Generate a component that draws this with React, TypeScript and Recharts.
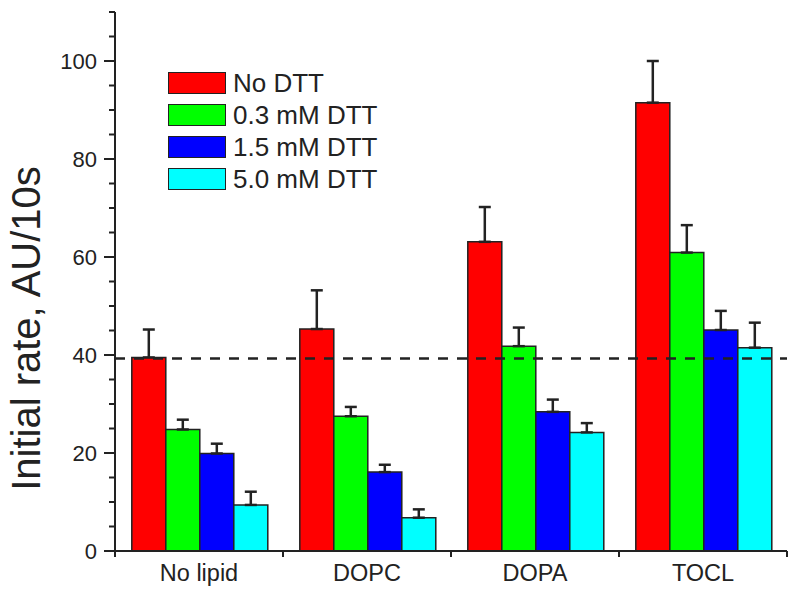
import { BarChart, Bar, XAxis, YAxis, ErrorBar, ReferenceLine, Legend } from "recharts";

// values (AU/10s), upper error only
const categories = ["No lipid", "DOPC", "DOPA", "TOCL"];
const noDtt = [39.5, 45.3, 63.1, 91.5];
const noDttErr = [5.7, 7.9, 7.1, 8.5];
const dtt03 = [24.8, 27.5, 41.8, 60.9];
const dtt03Err = [2.0, 1.9, 3.8, 5.6];
const dtt15 = [19.9, 16.1, 28.4, 45.1];
const dtt15Err = [2.0, 1.5, 2.5, 3.9];
const dtt50 = [9.4, 6.8, 24.2, 41.5];
const dtt50Err = [2.7, 1.7, 1.9, 5.1];
const baseline = 39.3;
const yTicks = [0, 5, 10, 15, 20, 25, 30, 35, 40, 45, 50, 55, 60, 65, 70, 75, 80, 85, 90, 95, 100, 105, 110];

const series = [
  { key: "noDtt", name: "No DTT", color: "#ff0000" },
  { key: "dtt03", name: "0.3 mM DTT", color: "#00ff00" },
  { key: "dtt15", name: "1.5 mM DTT", color: "#0000ff" },
  { key: "dtt50", name: "5.0 mM DTT", color: "#00ffff" },
];

const data = categories.map((name, i) => ({
  name,
  noDtt: noDtt[i],
  noDttErr: [0, noDttErr[i]],
  dtt03: dtt03[i],
  dtt03Err: [0, dtt03Err[i]],
  dtt15: dtt15[i],
  dtt15Err: [0, dtt15Err[i]],
  dtt50: dtt50[i],
  dtt50Err: [0, dtt50Err[i]],
}));

const W = 800;
const H = 593;
const margin = { top: 12, right: 13, bottom: 0, left: 0 };
const Y_AXIS_W = 115;
const X_AXIS_H = 42;
const ink = "#222";
const font = "'Liberation Sans', Arial, sans-serif";
const bandHalf = (W - margin.left - margin.right - Y_AXIS_W) / categories.length / 2;

const YTick = ({ x, y, payload }: any) => {
  const major = payload.value % 20 === 0;
  return (
    <g>
      <line x1={x - (major ? 11 : 6)} x2={x} y1={y} y2={y} stroke={ink} strokeWidth={2} />
      {major && (
        <text x={x - 18} y={y} textAnchor="end" dominantBaseline="central" fontSize={22} fill={ink} fontFamily={font}>
          {payload.value}
        </text>
      )}
    </g>
  );
};

const XTick = ({ x, y, payload, index }: any) => (
  <g>
    {index === 0 && <line x1={x - bandHalf} x2={x - bandHalf} y1={y} y2={y + 6} stroke={ink} strokeWidth={2} />}
    <line x1={x + bandHalf} x2={x + bandHalf} y1={y} y2={y + 6} stroke={ink} strokeWidth={2} />
    <text x={x} y={y + 22} textAnchor="middle" dominantBaseline="central" fontSize={23.5} fill={ink} fontFamily={font}>
      {payload.value}
    </text>
  </g>
);

// keep the series order (Recharts sorts the payload by name)
const renderLegend = () => (
  <div style={{ fontFamily: font, fontSize: 26, color: ink }}>
    {series.map((s) => (
      <div key={s.key} style={{ display: "flex", alignItems: "center", height: 32 }}>
        <div style={{ width: 56, height: 20, background: s.color, border: `1.5px solid ${ink}`, marginRight: 7 }} />
        <span style={{ lineHeight: "26px" }}>{s.name}</span>
      </div>
    ))}
  </div>
);

const YLabel = ({ viewBox }: any) => {
  const cx = 26;
  const cy = viewBox.y + viewBox.height / 2 + 47;
  return (
    <text x={cx} y={cy} transform={`rotate(-90 ${cx} ${cy})`} textAnchor="middle" dominantBaseline="central" fontSize={40} fill={ink} fontFamily={font}>
      Initial rate, AU/10s
    </text>
  );
};

export default function App() {
  return (
    <div style={{ position: "absolute", left: 0, top: 0, width: W, height: H, background: "#fff" }}>
      <BarChart width={W} height={H} data={data} margin={margin} barCategoryGap="10%" barGap={0}>
        <XAxis
          dataKey="name"
          height={X_AXIS_H}
          axisLine={{ stroke: ink, strokeWidth: 2 }}
          tickLine={false}
          tickSize={0}
          tickMargin={0}
          tick={<XTick />}
          interval={0}
        />
        <YAxis
          width={Y_AXIS_W}
          domain={[0, 110]}
          ticks={yTicks}
          interval={0}
          allowDataOverflow
          axisLine={{ stroke: ink, strokeWidth: 2 }}
          tickLine={false}
          tickSize={0}
          tickMargin={0}
          tick={<YTick />}
          label={<YLabel />}
        />
        <Legend
          layout="vertical"
          align="center"
          verticalAlign="middle"
          content={renderLegend}
          wrapperStyle={{ position: "absolute", left: 168, top: 67, width: "auto", height: "auto" }}
        />
        {series.map((s) => (
          <Bar key={s.key} dataKey={s.key} name={s.name} fill={s.color} stroke={ink} strokeWidth={1.5} isAnimationActive={false}>
            <ErrorBar dataKey={`${s.key}Err`} width={6} stroke={ink} strokeWidth={2.5} direction="y" />
          </Bar>
        ))}
        <ReferenceLine y={baseline} stroke={ink} strokeWidth={2.5} strokeDasharray="10 9" />
      </BarChart>
    </div>
  );
}
